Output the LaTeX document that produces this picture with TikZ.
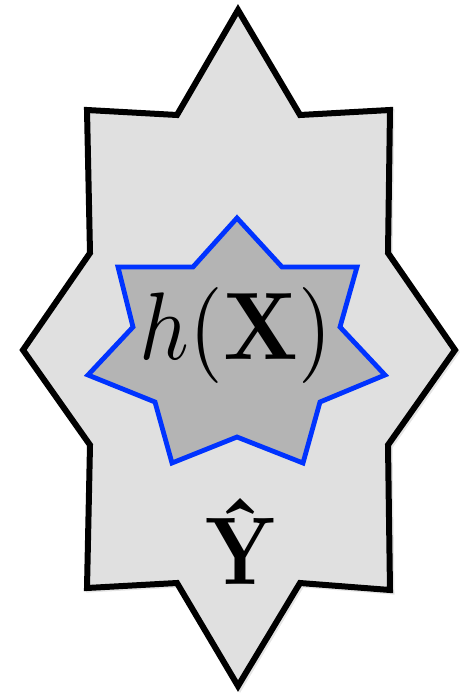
\documentclass[tikz,border=0pt]{standalone}
\usepackage{graphicx}
\usepackage{amsmath}
\definecolor{outerfill}{RGB}{224,224,224}
\definecolor{innerfill}{RGB}{180,180,180}
\definecolor{starblue}{RGB}{0,51,255}
\tikzset{
  outershape/.style={draw=black, fill=outerfill, line width=6pt, line join=miter},
  innershape/.style={draw=starblue, fill=innerfill, line width=4.8pt, line join=miter},
  shadowshape/.style={draw=black!40, line width=5pt, line join=miter, opacity=0.25},
  label/.style={inner sep=0pt, outer sep=0pt}
}
\begin{document}
\begin{tikzpicture}[x=1pt,y=-1pt]
\useasboundingbox (0,0) rectangle (466,693);
\draw[shadowshape, shift={(2,2)}] (238,10) -- (300,115) -- (390,110) -- (388,253) -- (455,350) -- (388,445) -- (390,590) -- (300,583) -- (238,686) -- (177,583) -- (87,588) -- (90,445) -- (23,350) -- (90,253) -- (87,110) -- (177,115) -- cycle;
\draw[outershape] (238,10) -- (300,115) -- (390,110) -- (388,253) -- (455,350) -- (388,445) -- (390,590) -- (300,583) -- (238,686) -- (177,583) -- (87,588) -- (90,445) -- (23,350) -- (90,253) -- (87,110) -- (177,115) -- cycle;
\draw[innershape] (237,218) -- (282,267) -- (357,267) -- (340,327) -- (385,375) -- (320,402) -- (303,463) -- (237,437) -- (172,463) -- (155,402) -- (88,375) -- (133,327) -- (118,267) -- (193,267) -- cycle;
\node[label] (hx) at (236,335) {\resizebox*{192pt}{96pt}{$h(\mathbf{X})$}};
\node[label] (yhat) at (241,541) {\resizebox*{70pt}{86pt}{\bfseries\^{Y}}};
\end{tikzpicture}
\end{document}
